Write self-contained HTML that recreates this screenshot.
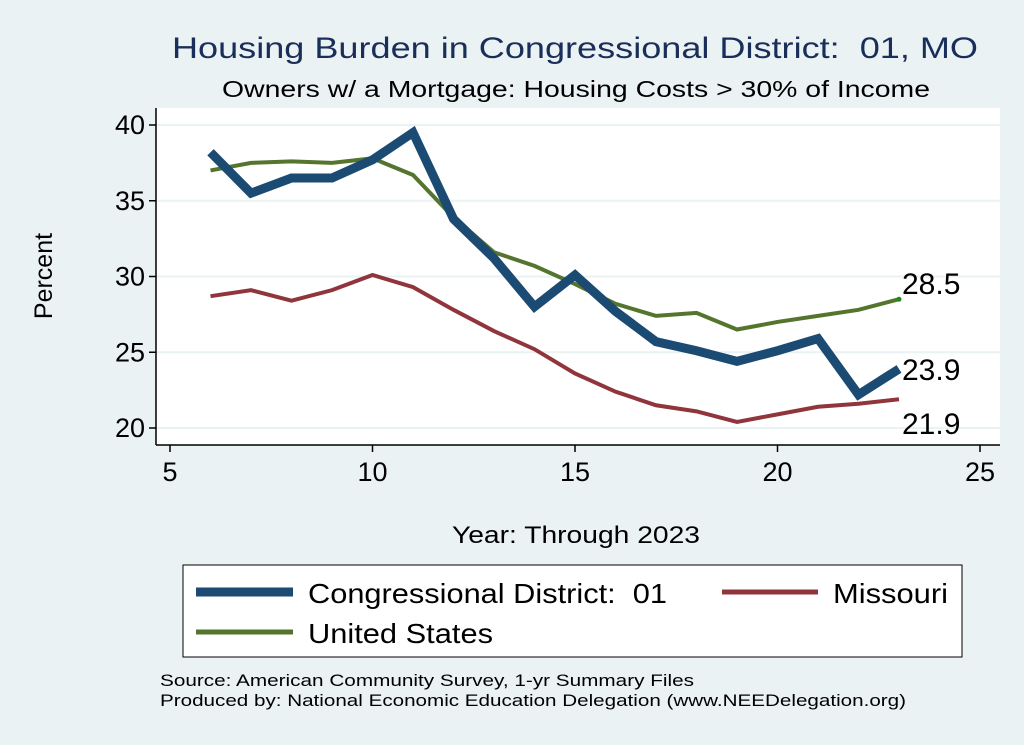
<!DOCTYPE html>
<html><head><style>
body{margin:0;background:#eaf2f3;font-family:"Liberation Sans",sans-serif;}
svg{display:block}
</style></head><body>
<svg width="1024" height="745">
<rect x="0" y="0" width="1024" height="745" fill="#eaf2f3"/>
<text x="172" y="58" font-size="30" fill="#1a2e5a" textLength="806" lengthAdjust="spacingAndGlyphs">Housing Burden in Congressional District:&#160; 01, MO</text>
<text x="222" y="97" font-size="23" fill="#000" textLength="708" lengthAdjust="spacingAndGlyphs">Owners w/ a Mortgage: Housing Costs &gt; 30% of Income</text>
<rect x="156" y="108" width="844" height="337" fill="#fff"/>
<g id="grid"></g>
<line x1="156" y1="108" x2="156" y2="445" stroke="#000" stroke-width="1.5"/>
<line x1="156" y1="445" x2="1000" y2="445" stroke="#000" stroke-width="1.5"/>
<g id="ticks"></g>
<g id="series"></g>
<text x="52" y="276" font-size="25" text-anchor="middle" transform="rotate(-90 52 276)">Percent</text>
<text x="452" y="543" font-size="24" textLength="248" lengthAdjust="spacingAndGlyphs">Year: Through 2023</text>
<g>
<rect x="183" y="565" width="779" height="92" fill="#fff" stroke="#000" stroke-width="1"/>
<line x1="196" y1="592" x2="293" y2="592" stroke="#1b4a72" stroke-width="9"/>
<text x="308" y="603" font-size="28" textLength="359" lengthAdjust="spacingAndGlyphs">Congressional District:&#160; 01</text>
<line x1="722" y1="592" x2="818" y2="592" stroke="#90353b" stroke-width="5"/>
<text x="833" y="603" font-size="28" textLength="115" lengthAdjust="spacingAndGlyphs">Missouri</text>
<line x1="196" y1="632" x2="293" y2="632" stroke="#55752f" stroke-width="5"/>
<text x="308" y="643" font-size="28" textLength="185" lengthAdjust="spacingAndGlyphs">United States</text>
</g>
<text x="160" y="686" font-size="17" textLength="534" lengthAdjust="spacingAndGlyphs">Source: American Community Survey, 1-yr Summary Files</text>
<text x="160" y="706" font-size="17" textLength="746" lengthAdjust="spacingAndGlyphs">Produced by: National Economic Education Delegation (www.NEEDelegation.org)</text>
</svg>
<script>
const years=[6,7,8,9,10,11,12,13,14,15,16,17,18,19,20,21,22,23];
const cdValues=[38.2,35.5,36.5,36.5,37.7,39.5,33.8,31.2,28.0,30.1,27.7,25.7,25.1,24.4,25.1,25.9,22.2,23.9];
const usValues=[37.0,37.5,37.6,37.5,37.8,36.7,33.9,31.6,30.7,29.5,28.2,27.4,27.6,26.5,27.0,27.4,27.8,28.5];
const moValues=[28.7,29.1,28.4,29.1,30.1,29.3,27.8,26.4,25.2,23.6,22.4,21.5,21.1,20.4,20.9,21.4,21.6,21.9];
const xTicks=[5,10,15,20,25];
const yTicks=[20,25,30,35,40];
const NS='http://www.w3.org/2000/svg';
const X=v=>170+(v-5)*40.5;
const Y=v=>428-(v-20)*15.15;
function mk(tag,attrs,parent){const e=document.createElementNS(NS,tag);for(const k in attrs)e.setAttribute(k,attrs[k]);parent.appendChild(e);return e;}
const grid=document.getElementById('grid'),ticks=document.getElementById('ticks'),series=document.getElementById('series');
yTicks.forEach(t=>{
 const g=mk('line',{x1:156,x2:1000,y1:Y(t),y2:Y(t),stroke:'#eaf2f3','stroke-width':2},grid);
 
 
 mk('line',{x1:149,x2:156,y1:Y(t),y2:Y(t),stroke:'#000','stroke-width':1.5},ticks);
 const l=mk('text',{x:145,y:Y(t)+9,'font-size':27,'text-anchor':'end'},ticks);
 l.textContent=t;
 
 
});
xTicks.forEach(t=>{
 mk('line',{x1:X(t),x2:X(t),y1:445,y2:452,stroke:'#000','stroke-width':1.5},ticks);
 const l=mk('text',{x:X(t),y:481,'font-size':27,'text-anchor':'middle'},ticks);
 l.textContent=t;
 
 
});
function line(vals,color,w,name){
 const p=mk('polyline',{points:vals.map((v,i)=>X(years[i])+','+Y(v)).join(' '),fill:'none',stroke:color,'stroke-width':w,'stroke-linejoin':'miter'},series);
 
 
}
line(moValues,'#90353b',4,'line-missouri');
line(usValues,'#55752f',4,'line-united-states');
line(cdValues,'#1b4a72',9,'line-congressional-district');
function lab(vals,dy,name){
 const v=vals[vals.length-1];
 const t=mk('text',{x:X(years[years.length-1])+3,y:Y(v)+dy,'font-size':30},series);
 t.textContent=v.toFixed(1);
 
 
}
mk('circle',{cx:X(23),cy:Y(usValues[17]),r:2.5,fill:'#1a8a1a'},series);
lab(usValues,-5,'label-us-last');
lab(cdValues,11,'label-cd-last');
lab(moValues,35,'label-mo-last');
</script>
</body></html>
